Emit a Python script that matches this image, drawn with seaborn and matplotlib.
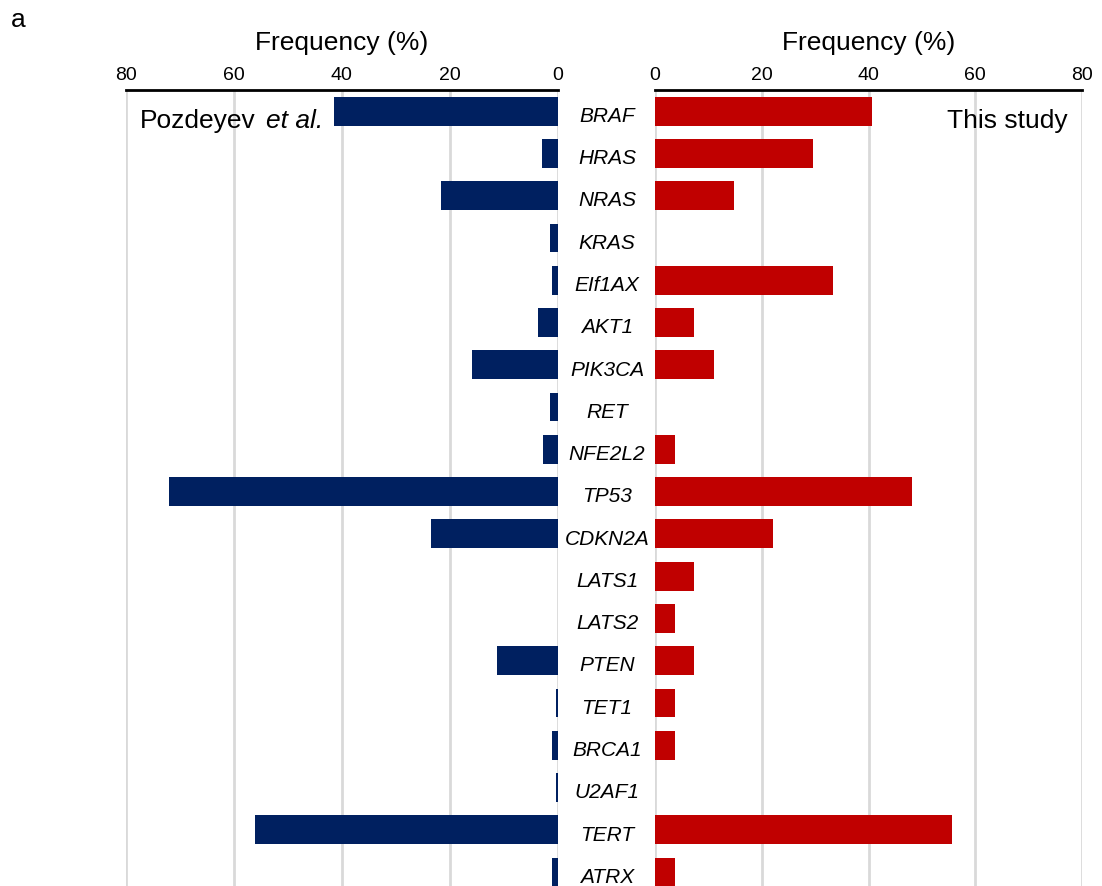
import matplotlib
matplotlib.use("Agg")
import matplotlib.pyplot as plt
import matplotlib.transforms as mtransforms
import seaborn as sns
import pandas as pd

genes = ["BRAF", "HRAS", "NRAS", "KRAS", "EIf1AX", "AKT1", "PIK3CA", "RET",
         "NFE2L2", "TP53", "CDKN2A", "LATS1", "LATS2", "PTEN", "TET1",
         "BRCA1", "U2AF1", "TERT", "ATRX"]
pozdeyev = [41.5, 3.0, 21.6, 1.4, 1.1, 3.6, 15.8, 1.4, 2.7, 72.0, 23.4,
            0.0, 0.0, 11.2, 0.4, 1.1, 0.4, 56.0, 1.1]
this_study = [40.7, 29.6, 14.8, 0.0, 33.3, 7.4, 11.1, 0.0, 3.7, 48.1, 22.2,
              7.4, 3.7, 7.4, 3.7, 3.7, 0.0, 55.6, 3.7]
freq_ticks = [0, 20, 40, 60, 80]

df = pd.DataFrame({"gene": genes, "pozdeyev": pozdeyev, "this_study": this_study})

sns.set_theme(style="white")
plt.rcParams["font.family"] = ["Liberation Sans", "DejaVu Sans"]
plt.rcParams["text.color"] = "black"
plt.rcParams["axes.labelcolor"] = "black"
plt.rcParams["xtick.color"] = "black"

W, H = 1102, 887
fig = plt.figure(figsize=(W / 100, H / 100), dpi=100)
top = 1 - 91 / H
axL = fig.add_axes([125.7 / W, 0, 432 / W, top])
axR = fig.add_axes([655 / W, 0, 427 / W, top])

NAVY = "#002060"
RED = "#C00000"
GRID = "#D9D9D9"

sns.barplot(data=df, x="pozdeyev", y="gene", order=genes, orient="h",
            color=NAVY, saturation=1, width=0.68, ax=axL, linewidth=0)
sns.barplot(data=df, x="this_study", y="gene", order=genes, orient="h",
            color=RED, saturation=1, width=0.68, ax=axR, linewidth=0)

for ax, xlim in ((axL, (80, 0)), (axR, (0, 80))):
    ax.set_xlim(*xlim)
    ax.set_ylim(18.33, -0.5)
    ax.set_xticks(freq_ticks)
    ax.xaxis.tick_top()
    ax.xaxis.set_label_position("top")
    ax.tick_params(axis="x", length=0, pad=5, labelsize=14, colors="black")
    ax.set_yticks([])
    ax.set_ylabel("")
    ax.set_xlabel("Frequency (%)", fontsize=19, labelpad=12, color="black")
    ax.xaxis.grid(True, color=GRID, linewidth=2.0)
    ax.set_axisbelow(True)
    for side in ("left", "right", "bottom"):
        ax.spines[side].set_visible(False)
    ax.spines["top"].set_visible(True)
    ax.spines["top"].set_color("black")
    ax.spines["top"].set_linewidth(2.0)
    ax.patch.set_alpha(0)

# gene names in the gap between the two panels
trans = mtransforms.blended_transform_factory(fig.transFigure, axR.transData)
for i, g in enumerate(genes):
    axR.text(607 / W, i + 0.1, g, transform=trans, ha="center", va="center",
             fontsize=15, style="italic", color="black", clip_on=False)

# panel titles
fig.text(140 / W, 1 - 128 / H, "Pozdeyev", fontsize=19, va="baseline", color="black")
fig.text(266 / W, 1 - 128 / H, "et al.", fontsize=19, va="baseline",
         style="italic", color="black")
fig.text(1068 / W, 1 - 128 / H, "This study", fontsize=19, va="baseline",
         ha="right", color="black")
fig.text(18 / W, 1 - 27 / H, "a", fontsize=19, va="baseline", ha="center", color="black")

fig.savefig("out.png", dpi=100)
